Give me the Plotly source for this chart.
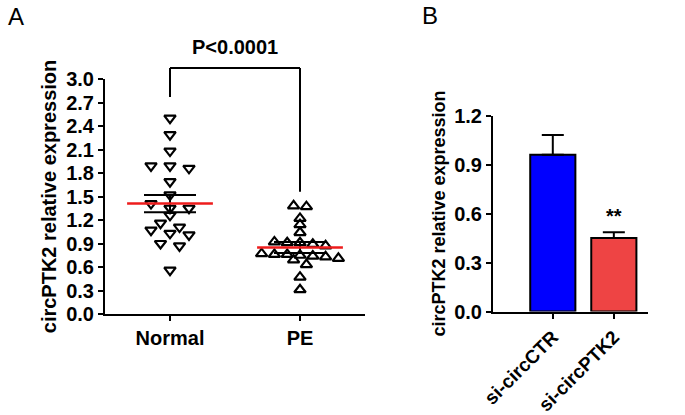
import plotly.graph_objects as go

# ---------------- data ----------------
groups_a = ["Normal", "PE"]
normal_vals = [2.50, 2.29, 2.08, 1.89, 1.86, 1.89, 1.69, 1.52, 1.35, 1.35,
               1.41, 1.26, 1.11, 1.16, 1.07, 1.03, 0.90, 1.01, 0.87, 0.56]
pe_vals = [1.37, 1.38, 1.22, 1.14, 1.04, 0.92, 0.91, 0.89, 0.91, 0.87,
           0.76, 0.77, 0.76, 0.75, 0.73, 0.71, 0.74, 0.69, 0.63, 0.47, 0.31]
group_means = [1.41, 0.85]
group_sems = [0.11, 0.07]
p_text = "P<0.0001"
bracket_top = 3.14
bracket_legs = [2.77, 1.56]

groups_b = ["si-circCTR", "si-circPTK2"]
bar_vals = [0.96, 0.45]
bar_errs = [0.12, 0.035]
bar_colors = ["#0000FF", "#EE4444"]
y_ticks_a = [0.0, 0.3, 0.6, 0.9, 1.2, 1.5, 1.8, 2.1, 2.4, 2.7, 3.0]
y_ticks_b = [0.0, 0.3, 0.6, 0.9, 1.2]

W, H = 685, 415
FONT = "Liberation Sans, Arial, sans-serif"

# ---------------- geometry ----------------
xa_dom = [105 / W, 365 / W]
ya_dom = [1 - 314 / H, 1 - 79 / H]
xa_rng = [0.5, 2.5]
ya_rng = [0, 3]
xb_dom = [493 / W, 648 / W]
yb_dom = [1 - 311.5 / H, 1 - 115.5 / H]
xb_rng = [-0.98, 1.56]
yb_rng = [0, 1.2]

px_per_x = (xa_dom[1] - xa_dom[0]) * W / (xa_rng[1] - xa_rng[0])
px_per_y = (ya_dom[1] - ya_dom[0]) * H / (ya_rng[1] - ya_rng[0])


def binned_swarm(vals, step_px, bin_px=6.0):
    """GraphPad-like scatter: points within a row are spread symmetrically"""
    order = sorted(range(len(vals)), key=lambda i: -vals[i])
    offs = [0.0] * len(vals)
    bins, cur, start = [], [], None
    for i in order:
        if cur and (start - vals[i]) * px_per_y <= bin_px:
            cur.append(i)
        else:
            if cur:
                bins.append(cur)
            cur, start = [i], vals[i]
    if cur:
        bins.append(cur)
    for b in bins:
        n = len(b)
        for j, i in enumerate(b):
            offs[i] = (j - (n - 1) / 2) * step_px / px_per_x
    return offs


fig = go.Figure()

# ---------------- panel A ----------------
symbols = ["triangle-down-open", "triangle-up-open"]
steps = [19.0, 12.8]
for gi, vals in enumerate([normal_vals, pe_vals]):
    cx = gi + 1
    offs = binned_swarm(vals, steps[gi])
    fig.add_trace(go.Scatter(
        x=[cx + o for o in offs], y=vals, mode="markers",
        marker=dict(symbol=symbols[gi], size=10, color="black",
                    line=dict(width=2.2, color="black")),
        xaxis="x", yaxis="y", showlegend=False, cliponaxis=False))

for gi in range(2):
    cx = gi + 1
    m, s = group_means[gi], group_sems[gi]
    hw = 0.2
    fig.add_trace(go.Scatter(
        x=[cx - hw, cx + hw, None, cx - hw, cx + hw, None, cx, cx],
        y=[m + s, m + s, None, m - s, m - s, None, m - s, m + s],
        mode="lines", line=dict(color="black", width=2),
        xaxis="x", yaxis="y", showlegend=False))
    fig.add_trace(go.Scatter(
        x=[cx - 0.33, cx + 0.33], y=[m, m], mode="lines",
        line=dict(color="#EE1C1C", width=2.5),
        xaxis="x", yaxis="y", showlegend=False))


def ya_paper(v):
    return ya_dom[0] + (v - ya_rng[0]) / (ya_rng[1] - ya_rng[0]) * (ya_dom[1] - ya_dom[0])


shapes = [
    dict(type="line", xref="x", yref="paper", x0=1, x1=2,
         y0=ya_paper(bracket_top), y1=ya_paper(bracket_top), line=dict(color="black", width=2)),
    dict(type="line", xref="x", yref="paper", x0=1, x1=1,
         y0=ya_paper(bracket_legs[0]), y1=ya_paper(bracket_top), line=dict(color="black", width=2)),
    dict(type="line", xref="x", yref="paper", x0=2, x1=2,
         y0=ya_paper(bracket_legs[1]), y1=ya_paper(bracket_top), line=dict(color="black", width=2)),
]

# ---------------- panel B ----------------
fig.add_trace(go.Bar(
    x=[0, 1], y=bar_vals, width=0.74,
    marker=dict(color=bar_colors, line=dict(color="black", width=2)),
    error_y=dict(type="data", array=bar_errs, arrayminus=[0, 0], symmetric=False,
                 color="black", thickness=2, width=11),
    xaxis="x2", yaxis="y2", showlegend=False))

axis_common = dict(showline=True, linecolor="black", linewidth=2, ticks="outside",
                   ticklen=5, tickwidth=2, tickcolor="black", showgrid=False,
                   zeroline=False, mirror=False, automargin=False,
                   tickfont=dict(family=FONT, size=20, color="black", weight="bold"))

fig.update_layout(
    width=W, height=H, margin=dict(l=0, r=0, t=0, b=0, autoexpand=False),
    paper_bgcolor="white", plot_bgcolor="white",
    font=dict(family=FONT, color="black"),
    shapes=shapes,
    xaxis=dict(domain=xa_dom, range=xa_rng, tickvals=[1, 2], ticktext=groups_a,
               anchor="y", **axis_common),
    yaxis=dict(domain=ya_dom, range=ya_rng, tickvals=y_ticks_a,
               ticktext=[f"{v:.1f}" for v in y_ticks_a], anchor="x",
               title=dict(text="circPTK2 relative expression", standoff=4,
                          font=dict(family=FONT, size=20, color="black", weight="bold")),
               **axis_common),
    xaxis2=dict(domain=xb_dom, range=xb_rng, tickvals=[0, 1], ticktext=groups_b,
                tickangle=-45, anchor="y2",
                **{**axis_common, "tickfont": dict(family=FONT, size=19, color="black", weight="bold")}),
    yaxis2=dict(domain=yb_dom, range=yb_rng, tickvals=y_ticks_b,
                ticktext=[f"{v:.1f}" for v in y_ticks_b], anchor="x2",
                title=dict(text="circPTK2 relative expression", standoff=4,
                           font=dict(family=FONT, size=18, color="black", weight="bold")),
                **axis_common),
    annotations=[
        dict(text=p_text, xref="x", yref="paper", x=1.5, y=1 - 47 / H, showarrow=False,
             font=dict(family=FONT, size=20, color="black", weight="bold"),
             xanchor="center", yanchor="middle"),
        dict(text="**", xref="x2", yref="y2", x=1, y=bar_vals[1] + bar_errs[1] + 0.02,
             showarrow=False, xanchor="center", yanchor="bottom",
             font=dict(family=FONT, size=20, color="black", weight="bold")),
        dict(text="A", xref="paper", yref="paper", x=6 / W, y=1 - 1 / H, showarrow=False,
             xanchor="left", yanchor="top", font=dict(family=FONT, size=24, color="black")),
        dict(text="B", xref="paper", yref="paper", x=420 / W, y=1 - 0 / H, showarrow=False,
             xanchor="left", yanchor="top", font=dict(family=FONT, size=24, color="black")),
    ],
)

fig.write_html("out.html", config={"displayModeBar": False},
               post_script="document.body.style.margin='0';document.body.style.overflow='hidden';")
